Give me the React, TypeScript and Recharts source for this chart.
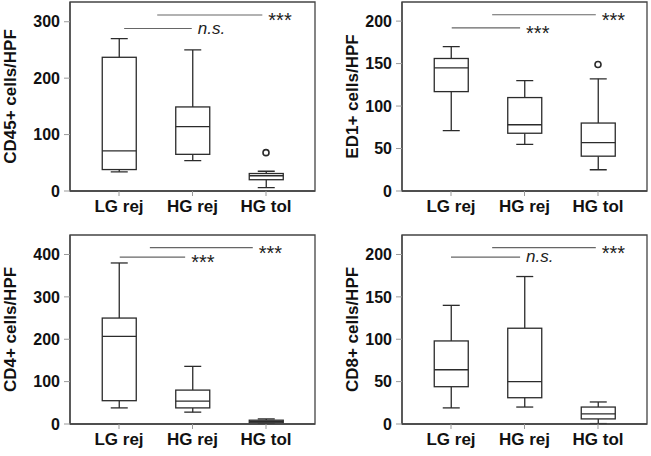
import {
  ComposedChart,
  Bar,
  Scatter,
  XAxis,
  YAxis,
  ReferenceLine,
  ReferenceArea,
} from 'recharts';

const FONT = '"Liberation Sans", Arial, sans-serif';

// categories, placed at 1, 2, 3 on a numeric x axis
const groups = ['LG rej', 'HG rej', 'HG tol'];
const groupPos = [1, 2, 3];

// CD45+ cells/HPF
const cd45Min = [34, 54, 6];
const cd45Q1 = [38, 65, 20];
const cd45Median = [71, 114, 27];
const cd45Q3 = [237, 149, 31];
const cd45Max = [270, 250, 35];
const cd45OutlierPos = [3];
const cd45OutlierVal = [68];

// ED1+ cells/HPF
const ed1Min = [71, 55, 25];
const ed1Q1 = [117, 68, 41];
const ed1Median = [145, 78, 57];
const ed1Q3 = [156, 110, 80];
const ed1Max = [170, 130, 132];
const ed1OutlierPos = [3];
const ed1OutlierVal = [149];

// CD4+ cells/HPF
const cd4Min = [38, 28, 1];
const cd4Q1 = [55, 38, 3];
const cd4Median = [207, 54, 6];
const cd4Q3 = [250, 80, 9];
const cd4Max = [380, 136, 12];

// CD8+ cells/HPF
const cd8Min = [19, 20, 0.5];
const cd8Q1 = [44, 31, 6];
const cd8Median = [64, 50, 12];
const cd8Q3 = [98, 113, 20];
const cd8Max = [140, 174, 26];

// significance brackets: from / to (x), level (y), text
const cd45Sig = [
  { from: 1.07, to: 1.99, level: 288, text: 'n.s.' },
  { from: 1.52, to: 2.95, level: 312, text: '***' },
];
const ed1Sig = [
  { from: 1.01, to: 1.94, level: 192, text: '***' },
  { from: 1.56, to: 2.97, level: 207.5, text: '***' },
];
const cd4Sig = [
  { from: 1.01, to: 1.9, level: 394, text: '***' },
  { from: 1.42, to: 2.82, level: 416, text: '***' },
];
const cd8Sig = [
  { from: 1.0, to: 1.94, level: 197, text: 'n.s.' },
  { from: 1.56, to: 2.97, level: 208, text: '***' },
];

const cd45Ticks = [0, 100, 200, 300];
const ed1Ticks = [0, 50, 100, 150, 200];
const cd4Ticks = [0, 100, 200, 300, 400];
const cd8Ticks = [0, 50, 100, 150, 200];

function buildRows(min: number[], q1: number[], median: number[], q3: number[], max: number[]) {
  return groups.map((name, i) => ({
    x: groupPos[i],
    name,
    min: min[i],
    q1: q1[i],
    median: median[i],
    q3: q3[i],
    max: max[i],
  }));
}

function buildOutliers(pos: number[], val: number[]) {
  return pos.map((p, i) => ({ x: p, y: val[i] }));
}

const STROKE = '#2b2b2b';

function BoxShape(props: any) {
  const { x, y, width, height, payload } = props;
  const { min, q1, median, q3, max } = payload;
  const top = Math.min(y, y + height);
  const h = Math.abs(height);
  const span = max - min;
  const toY = (v: number) => (span === 0 ? top : top + (h * (max - v)) / span);
  const cx = x + width / 2;
  const cap = width / 4;
  return (
    <g stroke={STROKE} strokeWidth={1.3} fill="none">
      <line x1={cx} x2={cx} y1={toY(max)} y2={toY(q3)} />
      <line x1={cx} x2={cx} y1={toY(q1)} y2={toY(min)} />
      <line x1={cx - cap} x2={cx + cap} y1={toY(max)} y2={toY(max)} />
      <line x1={cx - cap} x2={cx + cap} y1={toY(min)} y2={toY(min)} />
      <rect x={x} y={toY(q3)} width={width} height={Math.max(toY(q1) - toY(q3), 1)} fill="#fff" />
      <line x1={x} x2={x + width} y1={toY(median)} y2={toY(median)} />
    </g>
  );
}

function OutlierDot(props: any) {
  const { cx, cy } = props;
  return <circle cx={cx} cy={cy} r={3} fill="#fff" stroke={STROKE} strokeWidth={1.6} />;
}

function sigLabel(text: string) {
  return (props: any) => {
    const vb = props.viewBox || {};
    const x = (vb.x ?? 0) + (vb.width ?? 0) + 6;
    const y = (vb.y ?? 0) + (vb.height ?? 0) / 2;
    const stars = text === '***';
    return (
      <text
        x={x}
        y={y}
        dy={stars ? 12 : 5}
        fill="#222"
        fontFamily={FONT}
        fontSize={stars ? 20 : 17}
        fontStyle={stars ? 'normal' : 'italic'}
      >
        {text}
      </text>
    );
  };
}

interface PanelProps {
  title: string;
  rows: ReturnType<typeof buildRows>;
  outliers: { x: number; y: number }[];
  yMax: number;
  ticks: number[];
  sig: { from: number; to: number; level: number; text: string }[];
  left: number;
  top: number;
  width: number;
  height: number;
  axisWidth: number;
  labelOffset: number;
  margin: { top: number; right: number; bottom: number; left: number };
}

function Panel(p: PanelProps) {
  return (
    <div style={{ position: 'absolute', left: p.left, top: p.top }}>
      <ComposedChart width={p.width} height={p.height} data={p.rows} margin={p.margin}>
        <XAxis
          dataKey="x"
          type="number"
          domain={[1 / 3, 11 / 3]}
          ticks={groupPos}
          interval={0}
          tickFormatter={(v: number) => groups[v - 1]}
          tick={{ fill: '#111', fontSize: 17, fontWeight: 700, fontFamily: FONT }}
          axisLine={{ stroke: '#444', strokeWidth: 1.3 }}
          tickLine={{ stroke: '#999' }}
          tickSize={5}
          tickMargin={4}
          height={30}
        />
        <YAxis
          type="number"
          domain={[0, p.yMax]}
          ticks={p.ticks}
          allowDataOverflow
          width={p.axisWidth}
          tick={{ fill: '#111', fontSize: 16, fontWeight: 700, fontFamily: FONT }}
          axisLine={{ stroke: '#444', strokeWidth: 1.3 }}
          tickLine={{ stroke: '#999' }}
          tickSize={6}
          tickMargin={4}
          label={{
            value: p.title,
            angle: -90,
            position: 'insideLeft',
            offset: p.labelOffset,
            style: { textAnchor: 'middle', fill: '#111', fontSize: 17, fontWeight: 700, fontFamily: FONT },
          }}
        />
        <ReferenceArea
          x1={1 / 3}
          x2={11 / 3}
          y1={0}
          y2={p.yMax}
          fill="none"
          stroke="#444"
          strokeWidth={1.3}
          ifOverflow="visible"
        />
        <Bar
          dataKey={(d: any) => [d.min, d.max]}
          barSize={34}
          shape={BoxShape}
          isAnimationActive={false}
        />
        {p.outliers.length > 0 && (
          <Scatter data={p.outliers} dataKey="y" shape={OutlierDot} isAnimationActive={false} />
        )}
        {p.sig.map((s, i) => (
          <ReferenceLine
            key={i}
            segment={[
              { x: s.from, y: s.level },
              { x: s.to, y: s.level },
            ]}
            stroke="#666"
            strokeWidth={1.2}
            ifOverflow="visible"
            label={sigLabel(s.text)}
          />
        ))}
      </ComposedChart>
    </div>
  );
}

export default function App() {
  const top = { top: 2, right: 10, bottom: 7, left: 0 };
  const topRight = { top: 2, right: 4, bottom: 7, left: 0 };
  const bottom = { top: 10, right: 10, bottom: 2, left: 0 };
  const bottomRight = { top: 10, right: 4, bottom: 2, left: 0 };
  return (
    <div style={{ position: 'absolute', left: 0, top: 0, width: 651, height: 456, background: '#fff' }}>
      <Panel
        title="CD45+ cells/HPF"
        rows={buildRows(cd45Min, cd45Q1, cd45Median, cd45Q3, cd45Max)}
        outliers={buildOutliers(cd45OutlierPos, cd45OutlierVal)}
        yMax={335}
        ticks={cd45Ticks}
        sig={cd45Sig}
        left={0}
        top={0}
        width={325}
        height={228}
        axisWidth={70}
        labelOffset={10}
        margin={top}
      />
      <Panel
        title="ED1+ cells/HPF"
        rows={buildRows(ed1Min, ed1Q1, ed1Median, ed1Q3, ed1Max)}
        outliers={buildOutliers(ed1OutlierPos, ed1OutlierVal)}
        yMax={222.5}
        ticks={ed1Ticks}
        sig={ed1Sig}
        left={325}
        top={0}
        width={326}
        height={228}
        axisWidth={77}
        labelOffset={27}
        margin={topRight}
      />
      <Panel
        title="CD4+ cells/HPF"
        rows={buildRows(cd4Min, cd4Q1, cd4Median, cd4Q3, cd4Max)}
        outliers={[]}
        yMax={446}
        ticks={cd4Ticks}
        sig={cd4Sig}
        left={0}
        top={225}
        width={325}
        height={231}
        axisWidth={70}
        labelOffset={10}
        margin={bottom}
      />
      <Panel
        title="CD8+ cells/HPF"
        rows={buildRows(cd8Min, cd8Q1, cd8Median, cd8Q3, cd8Max)}
        outliers={[]}
        yMax={223}
        ticks={cd8Ticks}
        sig={cd8Sig}
        left={325}
        top={225}
        width={326}
        height={231}
        axisWidth={77}
        labelOffset={27}
        margin={bottomRight}
      />
    </div>
  );
}
